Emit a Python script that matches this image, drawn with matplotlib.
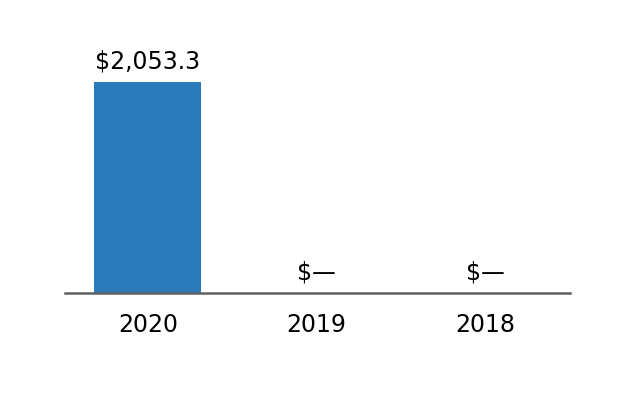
import matplotlib
matplotlib.use('Agg')
from matplotlib import pyplot as plt

# chart data
years = ['2020', '2019', '2018']
values = [2053.3, 0.0, 0.0]
labels = ['$2,053.3', '$\u2014', '$\u2014']

fig = plt.figure(figsize=(6.34, 4.0), dpi=100)
ax = fig.add_axes([65 / 634, 107 / 400, 505 / 634, 253 / 400])

positions = list(range(len(years)))
bars = ax.bar(positions, values, width=0.635, color='#2b7bba')

# value labels above each bar
for bar, text in zip(bars, labels):
    ax.annotate(text, (bar.get_x() + bar.get_width() / 2, bar.get_height()),
                xytext=(0, 6), textcoords='offset points',
                ha='center', va='bottom', fontsize=17, color='black')

ax.set_xlim(-0.49, 2.5)
ax.set_ylim(0, 2053.3 * 253 / 211)

ax.set_xticks(positions)
ax.set_xticklabels(years, fontsize=17)
ax.tick_params(axis='x', length=0, pad=14.5)
ax.set_yticks([])

for side in ['top', 'right', 'left']:
    ax.spines[side].set_visible(False)
ax.spines['bottom'].set_color('#606060')
ax.spines['bottom'].set_linewidth(1.8)

fig.savefig('out.png', dpi=100)
